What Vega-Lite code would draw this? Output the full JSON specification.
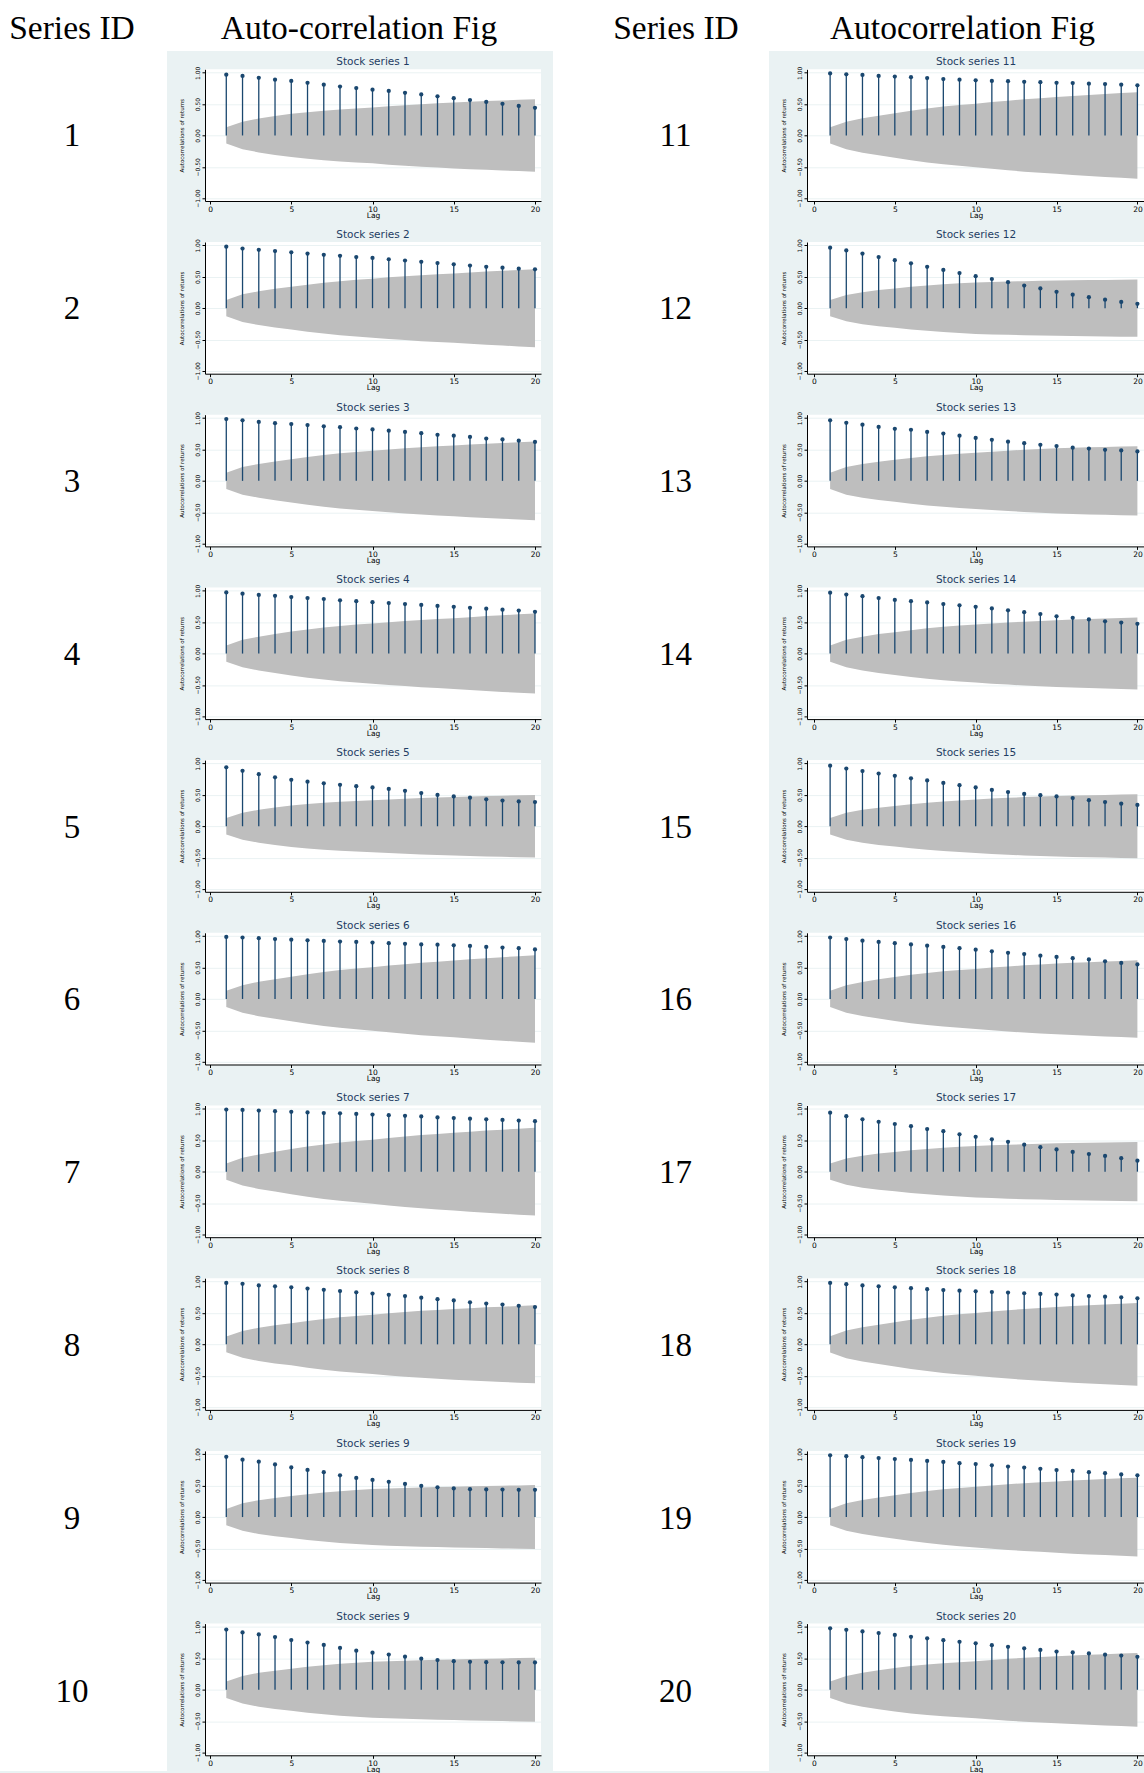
{
"$schema":"https://vega.github.io/schema/vega-lite/v6.json",
"background":"#eaf2f3",
"padding":0,
"spacing":0,
"datasets":{"acf":[
{"s":1,"lag":1,"r":0.97,"hi":0.13,"lo":-0.13},{"s":1,"lag":2,"r":0.95,"hi":0.22,"lo":-0.22},{"s":1,"lag":3,"r":0.92,"hi":0.27,"lo":-0.27},{"s":1,"lag":4,"r":0.89,"hi":0.31,"lo":-0.31},{"s":1,"lag":5,"r":0.87,"hi":0.345,"lo":-0.345},{"s":1,"lag":6,"r":0.84,"hi":0.372,"lo":-0.372},{"s":1,"lag":7,"r":0.81,"hi":0.395,"lo":-0.395},{"s":1,"lag":8,"r":0.78,"hi":0.415,"lo":-0.415},{"s":1,"lag":9,"r":0.755,"hi":0.431,"lo":-0.431},{"s":1,"lag":10,"r":0.73,"hi":0.445,"lo":-0.445},{"s":1,"lag":11,"r":0.71,"hi":0.465,"lo":-0.465},{"s":1,"lag":12,"r":0.68,"hi":0.483,"lo":-0.483},{"s":1,"lag":13,"r":0.655,"hi":0.499,"lo":-0.499},{"s":1,"lag":14,"r":0.625,"hi":0.512,"lo":-0.512},{"s":1,"lag":15,"r":0.595,"hi":0.525,"lo":-0.525},{"s":1,"lag":16,"r":0.565,"hi":0.537,"lo":-0.537},{"s":1,"lag":17,"r":0.535,"hi":0.548,"lo":-0.548},{"s":1,"lag":18,"r":0.505,"hi":0.558,"lo":-0.558},{"s":1,"lag":19,"r":0.47,"hi":0.568,"lo":-0.568},{"s":1,"lag":20,"r":0.44,"hi":0.578,"lo":-0.578},
{"s":2,"lag":1,"r":0.98,"hi":0.13,"lo":-0.13},{"s":2,"lag":2,"r":0.95,"hi":0.22,"lo":-0.22},{"s":2,"lag":3,"r":0.93,"hi":0.27,"lo":-0.27},{"s":2,"lag":4,"r":0.91,"hi":0.31,"lo":-0.31},{"s":2,"lag":5,"r":0.89,"hi":0.34,"lo":-0.34},{"s":2,"lag":6,"r":0.87,"hi":0.375,"lo":-0.375},{"s":2,"lag":7,"r":0.85,"hi":0.405,"lo":-0.405},{"s":2,"lag":8,"r":0.835,"hi":0.431,"lo":-0.431},{"s":2,"lag":9,"r":0.815,"hi":0.452,"lo":-0.452},{"s":2,"lag":10,"r":0.8,"hi":0.47,"lo":-0.47},{"s":2,"lag":11,"r":0.78,"hi":0.491,"lo":-0.491},{"s":2,"lag":12,"r":0.76,"hi":0.509,"lo":-0.509},{"s":2,"lag":13,"r":0.74,"hi":0.526,"lo":-0.526},{"s":2,"lag":14,"r":0.72,"hi":0.54,"lo":-0.54},{"s":2,"lag":15,"r":0.7,"hi":0.553,"lo":-0.553},{"s":2,"lag":16,"r":0.68,"hi":0.569,"lo":-0.569},{"s":2,"lag":17,"r":0.66,"hi":0.583,"lo":-0.583},{"s":2,"lag":18,"r":0.645,"hi":0.596,"lo":-0.596},{"s":2,"lag":19,"r":0.63,"hi":0.61,"lo":-0.61},{"s":2,"lag":20,"r":0.62,"hi":0.622,"lo":-0.622},
{"s":3,"lag":1,"r":0.985,"hi":0.13,"lo":-0.13},{"s":3,"lag":2,"r":0.965,"hi":0.22,"lo":-0.22},{"s":3,"lag":3,"r":0.94,"hi":0.27,"lo":-0.27},{"s":3,"lag":4,"r":0.92,"hi":0.31,"lo":-0.31},{"s":3,"lag":5,"r":0.905,"hi":0.346,"lo":-0.346},{"s":3,"lag":6,"r":0.89,"hi":0.382,"lo":-0.382},{"s":3,"lag":7,"r":0.87,"hi":0.413,"lo":-0.413},{"s":3,"lag":8,"r":0.855,"hi":0.44,"lo":-0.44},{"s":3,"lag":9,"r":0.835,"hi":0.461,"lo":-0.461},{"s":3,"lag":10,"r":0.82,"hi":0.48,"lo":-0.48},{"s":3,"lag":11,"r":0.8,"hi":0.501,"lo":-0.501},{"s":3,"lag":12,"r":0.78,"hi":0.519,"lo":-0.519},{"s":3,"lag":13,"r":0.76,"hi":0.536,"lo":-0.536},{"s":3,"lag":14,"r":0.735,"hi":0.551,"lo":-0.551},{"s":3,"lag":15,"r":0.72,"hi":0.564,"lo":-0.564},{"s":3,"lag":16,"r":0.7,"hi":0.579,"lo":-0.579},{"s":3,"lag":17,"r":0.675,"hi":0.592,"lo":-0.592},{"s":3,"lag":18,"r":0.66,"hi":0.604,"lo":-0.604},{"s":3,"lag":19,"r":0.64,"hi":0.616,"lo":-0.616},{"s":3,"lag":20,"r":0.62,"hi":0.628,"lo":-0.628},
{"s":4,"lag":1,"r":0.975,"hi":0.13,"lo":-0.13},{"s":4,"lag":2,"r":0.955,"hi":0.22,"lo":-0.22},{"s":4,"lag":3,"r":0.935,"hi":0.27,"lo":-0.27},{"s":4,"lag":4,"r":0.92,"hi":0.31,"lo":-0.31},{"s":4,"lag":5,"r":0.9,"hi":0.35,"lo":-0.35},{"s":4,"lag":6,"r":0.885,"hi":0.385,"lo":-0.385},{"s":4,"lag":7,"r":0.87,"hi":0.415,"lo":-0.415},{"s":4,"lag":8,"r":0.85,"hi":0.441,"lo":-0.441},{"s":4,"lag":9,"r":0.835,"hi":0.462,"lo":-0.462},{"s":4,"lag":10,"r":0.82,"hi":0.48,"lo":-0.48},{"s":4,"lag":11,"r":0.805,"hi":0.501,"lo":-0.501},{"s":4,"lag":12,"r":0.79,"hi":0.519,"lo":-0.519},{"s":4,"lag":13,"r":0.775,"hi":0.536,"lo":-0.536},{"s":4,"lag":14,"r":0.76,"hi":0.551,"lo":-0.551},{"s":4,"lag":15,"r":0.745,"hi":0.564,"lo":-0.564},{"s":4,"lag":16,"r":0.73,"hi":0.581,"lo":-0.581},{"s":4,"lag":17,"r":0.715,"hi":0.597,"lo":-0.597},{"s":4,"lag":18,"r":0.7,"hi":0.611,"lo":-0.611},{"s":4,"lag":19,"r":0.685,"hi":0.625,"lo":-0.625},{"s":4,"lag":20,"r":0.665,"hi":0.638,"lo":-0.638},
{"s":5,"lag":1,"r":0.94,"hi":0.13,"lo":-0.13},{"s":5,"lag":2,"r":0.885,"hi":0.215,"lo":-0.215},{"s":5,"lag":3,"r":0.83,"hi":0.262,"lo":-0.262},{"s":5,"lag":4,"r":0.78,"hi":0.3,"lo":-0.3},{"s":5,"lag":5,"r":0.74,"hi":0.33,"lo":-0.33},{"s":5,"lag":6,"r":0.71,"hi":0.353,"lo":-0.353},{"s":5,"lag":7,"r":0.685,"hi":0.373,"lo":-0.373},{"s":5,"lag":8,"r":0.66,"hi":0.39,"lo":-0.39},{"s":5,"lag":9,"r":0.64,"hi":0.403,"lo":-0.403},{"s":5,"lag":10,"r":0.62,"hi":0.415,"lo":-0.415},{"s":5,"lag":11,"r":0.595,"hi":0.428,"lo":-0.428},{"s":5,"lag":12,"r":0.565,"hi":0.44,"lo":-0.44},{"s":5,"lag":13,"r":0.53,"hi":0.451,"lo":-0.451},{"s":5,"lag":14,"r":0.5,"hi":0.46,"lo":-0.46},{"s":5,"lag":15,"r":0.475,"hi":0.468,"lo":-0.468},{"s":5,"lag":16,"r":0.455,"hi":0.475,"lo":-0.475},{"s":5,"lag":17,"r":0.43,"hi":0.482,"lo":-0.482},{"s":5,"lag":18,"r":0.41,"hi":0.488,"lo":-0.488},{"s":5,"lag":19,"r":0.395,"hi":0.494,"lo":-0.494},{"s":5,"lag":20,"r":0.385,"hi":0.5,"lo":-0.5},
{"s":6,"lag":1,"r":0.99,"hi":0.13,"lo":-0.13},{"s":6,"lag":2,"r":0.98,"hi":0.22,"lo":-0.22},{"s":6,"lag":3,"r":0.97,"hi":0.275,"lo":-0.275},{"s":6,"lag":4,"r":0.955,"hi":0.315,"lo":-0.315},{"s":6,"lag":5,"r":0.945,"hi":0.356,"lo":-0.356},{"s":6,"lag":6,"r":0.935,"hi":0.396,"lo":-0.396},{"s":6,"lag":7,"r":0.925,"hi":0.431,"lo":-0.431},{"s":6,"lag":8,"r":0.915,"hi":0.46,"lo":-0.46},{"s":6,"lag":9,"r":0.91,"hi":0.484,"lo":-0.484},{"s":6,"lag":10,"r":0.9,"hi":0.505,"lo":-0.505},{"s":6,"lag":11,"r":0.89,"hi":0.532,"lo":-0.532},{"s":6,"lag":12,"r":0.88,"hi":0.555,"lo":-0.555},{"s":6,"lag":13,"r":0.87,"hi":0.577,"lo":-0.577},{"s":6,"lag":14,"r":0.865,"hi":0.595,"lo":-0.595},{"s":6,"lag":15,"r":0.855,"hi":0.612,"lo":-0.612},{"s":6,"lag":16,"r":0.845,"hi":0.632,"lo":-0.632},{"s":6,"lag":17,"r":0.83,"hi":0.649,"lo":-0.649},{"s":6,"lag":18,"r":0.82,"hi":0.666,"lo":-0.666},{"s":6,"lag":19,"r":0.81,"hi":0.682,"lo":-0.682},{"s":6,"lag":20,"r":0.79,"hi":0.697,"lo":-0.697},
{"s":7,"lag":1,"r":0.99,"hi":0.13,"lo":-0.13},{"s":7,"lag":2,"r":0.985,"hi":0.22,"lo":-0.22},{"s":7,"lag":3,"r":0.975,"hi":0.275,"lo":-0.275},{"s":7,"lag":4,"r":0.965,"hi":0.318,"lo":-0.318},{"s":7,"lag":5,"r":0.955,"hi":0.36,"lo":-0.36},{"s":7,"lag":6,"r":0.945,"hi":0.401,"lo":-0.401},{"s":7,"lag":7,"r":0.935,"hi":0.435,"lo":-0.435},{"s":7,"lag":8,"r":0.93,"hi":0.465,"lo":-0.465},{"s":7,"lag":9,"r":0.92,"hi":0.489,"lo":-0.489},{"s":7,"lag":10,"r":0.91,"hi":0.51,"lo":-0.51},{"s":7,"lag":11,"r":0.9,"hi":0.538,"lo":-0.538},{"s":7,"lag":12,"r":0.89,"hi":0.562,"lo":-0.562},{"s":7,"lag":13,"r":0.88,"hi":0.584,"lo":-0.584},{"s":7,"lag":14,"r":0.865,"hi":0.602,"lo":-0.602},{"s":7,"lag":15,"r":0.855,"hi":0.62,"lo":-0.62},{"s":7,"lag":16,"r":0.845,"hi":0.638,"lo":-0.638},{"s":7,"lag":17,"r":0.835,"hi":0.655,"lo":-0.655},{"s":7,"lag":18,"r":0.825,"hi":0.67,"lo":-0.67},{"s":7,"lag":19,"r":0.815,"hi":0.686,"lo":-0.686},{"s":7,"lag":20,"r":0.805,"hi":0.7,"lo":-0.7},
{"s":8,"lag":1,"r":0.98,"hi":0.125,"lo":-0.125},{"s":8,"lag":2,"r":0.965,"hi":0.215,"lo":-0.215},{"s":8,"lag":3,"r":0.94,"hi":0.265,"lo":-0.265},{"s":8,"lag":4,"r":0.925,"hi":0.305,"lo":-0.305},{"s":8,"lag":5,"r":0.91,"hi":0.335,"lo":-0.335},{"s":8,"lag":6,"r":0.89,"hi":0.372,"lo":-0.372},{"s":8,"lag":7,"r":0.87,"hi":0.404,"lo":-0.404},{"s":8,"lag":8,"r":0.85,"hi":0.432,"lo":-0.432},{"s":8,"lag":9,"r":0.83,"hi":0.454,"lo":-0.454},{"s":8,"lag":10,"r":0.81,"hi":0.473,"lo":-0.473},{"s":8,"lag":11,"r":0.79,"hi":0.496,"lo":-0.496},{"s":8,"lag":12,"r":0.77,"hi":0.516,"lo":-0.516},{"s":8,"lag":13,"r":0.745,"hi":0.534,"lo":-0.534},{"s":8,"lag":14,"r":0.72,"hi":0.549,"lo":-0.549},{"s":8,"lag":15,"r":0.7,"hi":0.564,"lo":-0.564},{"s":8,"lag":16,"r":0.67,"hi":0.577,"lo":-0.577},{"s":8,"lag":17,"r":0.65,"hi":0.59,"lo":-0.59},{"s":8,"lag":18,"r":0.635,"hi":0.601,"lo":-0.601},{"s":8,"lag":19,"r":0.615,"hi":0.612,"lo":-0.612},{"s":8,"lag":20,"r":0.595,"hi":0.622,"lo":-0.622},
{"s":9,"lag":1,"r":0.96,"hi":0.13,"lo":-0.13},{"s":9,"lag":2,"r":0.915,"hi":0.22,"lo":-0.22},{"s":9,"lag":3,"r":0.883,"hi":0.27,"lo":-0.27},{"s":9,"lag":4,"r":0.84,"hi":0.305,"lo":-0.305},{"s":9,"lag":5,"r":0.792,"hi":0.335,"lo":-0.335},{"s":9,"lag":6,"r":0.752,"hi":0.365,"lo":-0.365},{"s":9,"lag":7,"r":0.715,"hi":0.391,"lo":-0.391},{"s":9,"lag":8,"r":0.666,"hi":0.413,"lo":-0.413},{"s":9,"lag":9,"r":0.624,"hi":0.431,"lo":-0.431},{"s":9,"lag":10,"r":0.592,"hi":0.447,"lo":-0.447},{"s":9,"lag":11,"r":0.562,"hi":0.456,"lo":-0.456},{"s":9,"lag":12,"r":0.528,"hi":0.464,"lo":-0.464},{"s":9,"lag":13,"r":0.496,"hi":0.472,"lo":-0.472},{"s":9,"lag":14,"r":0.474,"hi":0.478,"lo":-0.478},{"s":9,"lag":15,"r":0.456,"hi":0.484,"lo":-0.484},{"s":9,"lag":16,"r":0.445,"hi":0.49,"lo":-0.49},{"s":9,"lag":17,"r":0.44,"hi":0.495,"lo":-0.495},{"s":9,"lag":18,"r":0.438,"hi":0.5,"lo":-0.5},{"s":9,"lag":19,"r":0.435,"hi":0.505,"lo":-0.505},{"s":9,"lag":20,"r":0.435,"hi":0.51,"lo":-0.51},
{"s":10,"lag":1,"r":0.96,"hi":0.13,"lo":-0.13},{"s":10,"lag":2,"r":0.915,"hi":0.22,"lo":-0.22},{"s":10,"lag":3,"r":0.883,"hi":0.27,"lo":-0.27},{"s":10,"lag":4,"r":0.84,"hi":0.305,"lo":-0.305},{"s":10,"lag":5,"r":0.792,"hi":0.335,"lo":-0.335},{"s":10,"lag":6,"r":0.752,"hi":0.365,"lo":-0.365},{"s":10,"lag":7,"r":0.715,"hi":0.391,"lo":-0.391},{"s":10,"lag":8,"r":0.666,"hi":0.413,"lo":-0.413},{"s":10,"lag":9,"r":0.624,"hi":0.431,"lo":-0.431},{"s":10,"lag":10,"r":0.592,"hi":0.447,"lo":-0.447},{"s":10,"lag":11,"r":0.562,"hi":0.456,"lo":-0.456},{"s":10,"lag":12,"r":0.528,"hi":0.464,"lo":-0.464},{"s":10,"lag":13,"r":0.496,"hi":0.472,"lo":-0.472},{"s":10,"lag":14,"r":0.474,"hi":0.478,"lo":-0.478},{"s":10,"lag":15,"r":0.456,"hi":0.484,"lo":-0.484},{"s":10,"lag":16,"r":0.445,"hi":0.49,"lo":-0.49},{"s":10,"lag":17,"r":0.44,"hi":0.495,"lo":-0.495},{"s":10,"lag":18,"r":0.438,"hi":0.5,"lo":-0.5},{"s":10,"lag":19,"r":0.435,"hi":0.505,"lo":-0.505},{"s":10,"lag":20,"r":0.435,"hi":0.51,"lo":-0.51},
{"s":11,"lag":1,"r":0.99,"hi":0.13,"lo":-0.13},{"s":11,"lag":2,"r":0.975,"hi":0.22,"lo":-0.22},{"s":11,"lag":3,"r":0.965,"hi":0.275,"lo":-0.275},{"s":11,"lag":4,"r":0.95,"hi":0.315,"lo":-0.315},{"s":11,"lag":5,"r":0.94,"hi":0.356,"lo":-0.356},{"s":11,"lag":6,"r":0.93,"hi":0.396,"lo":-0.396},{"s":11,"lag":7,"r":0.915,"hi":0.431,"lo":-0.431},{"s":11,"lag":8,"r":0.9,"hi":0.46,"lo":-0.46},{"s":11,"lag":9,"r":0.89,"hi":0.484,"lo":-0.484},{"s":11,"lag":10,"r":0.88,"hi":0.505,"lo":-0.505},{"s":11,"lag":11,"r":0.87,"hi":0.532,"lo":-0.532},{"s":11,"lag":12,"r":0.865,"hi":0.555,"lo":-0.555},{"s":11,"lag":13,"r":0.855,"hi":0.577,"lo":-0.577},{"s":11,"lag":14,"r":0.85,"hi":0.595,"lo":-0.595},{"s":11,"lag":15,"r":0.84,"hi":0.612,"lo":-0.612},{"s":11,"lag":16,"r":0.835,"hi":0.63,"lo":-0.63},{"s":11,"lag":17,"r":0.825,"hi":0.646,"lo":-0.646},{"s":11,"lag":18,"r":0.82,"hi":0.661,"lo":-0.661},{"s":11,"lag":19,"r":0.81,"hi":0.676,"lo":-0.676},{"s":11,"lag":20,"r":0.8,"hi":0.69,"lo":-0.69},
{"s":12,"lag":1,"r":0.965,"hi":0.13,"lo":-0.13},{"s":12,"lag":2,"r":0.92,"hi":0.21,"lo":-0.21},{"s":12,"lag":3,"r":0.87,"hi":0.255,"lo":-0.255},{"s":12,"lag":4,"r":0.815,"hi":0.29,"lo":-0.29},{"s":12,"lag":5,"r":0.765,"hi":0.314,"lo":-0.314},{"s":12,"lag":6,"r":0.715,"hi":0.34,"lo":-0.34},{"s":12,"lag":7,"r":0.66,"hi":0.362,"lo":-0.362},{"s":12,"lag":8,"r":0.61,"hi":0.381,"lo":-0.381},{"s":12,"lag":9,"r":0.56,"hi":0.397,"lo":-0.397},{"s":12,"lag":10,"r":0.51,"hi":0.41,"lo":-0.41},{"s":12,"lag":11,"r":0.465,"hi":0.418,"lo":-0.418},{"s":12,"lag":12,"r":0.415,"hi":0.425,"lo":-0.425},{"s":12,"lag":13,"r":0.36,"hi":0.431,"lo":-0.431},{"s":12,"lag":14,"r":0.315,"hi":0.436,"lo":-0.436},{"s":12,"lag":15,"r":0.26,"hi":0.441,"lo":-0.441},{"s":12,"lag":16,"r":0.215,"hi":0.445,"lo":-0.445},{"s":12,"lag":17,"r":0.175,"hi":0.448,"lo":-0.448},{"s":12,"lag":18,"r":0.135,"hi":0.451,"lo":-0.451},{"s":12,"lag":19,"r":0.1,"hi":0.454,"lo":-0.454},{"s":12,"lag":20,"r":0.07,"hi":0.457,"lo":-0.457},
{"s":13,"lag":1,"r":0.965,"hi":0.13,"lo":-0.13},{"s":13,"lag":2,"r":0.925,"hi":0.22,"lo":-0.22},{"s":13,"lag":3,"r":0.895,"hi":0.27,"lo":-0.27},{"s":13,"lag":4,"r":0.86,"hi":0.305,"lo":-0.305},{"s":13,"lag":5,"r":0.83,"hi":0.335,"lo":-0.335},{"s":13,"lag":6,"r":0.815,"hi":0.365,"lo":-0.365},{"s":13,"lag":7,"r":0.78,"hi":0.391,"lo":-0.391},{"s":13,"lag":8,"r":0.755,"hi":0.413,"lo":-0.413},{"s":13,"lag":9,"r":0.72,"hi":0.431,"lo":-0.431},{"s":13,"lag":10,"r":0.685,"hi":0.447,"lo":-0.447},{"s":13,"lag":11,"r":0.655,"hi":0.465,"lo":-0.465},{"s":13,"lag":12,"r":0.625,"hi":0.481,"lo":-0.481},{"s":13,"lag":13,"r":0.6,"hi":0.496,"lo":-0.496},{"s":13,"lag":14,"r":0.575,"hi":0.508,"lo":-0.508},{"s":13,"lag":15,"r":0.555,"hi":0.52,"lo":-0.52},{"s":13,"lag":16,"r":0.53,"hi":0.528,"lo":-0.528},{"s":13,"lag":17,"r":0.515,"hi":0.535,"lo":-0.535},{"s":13,"lag":18,"r":0.495,"hi":0.541,"lo":-0.541},{"s":13,"lag":19,"r":0.485,"hi":0.547,"lo":-0.547},{"s":13,"lag":20,"r":0.47,"hi":0.553,"lo":-0.553},
{"s":14,"lag":1,"r":0.97,"hi":0.13,"lo":-0.13},{"s":14,"lag":2,"r":0.94,"hi":0.22,"lo":-0.22},{"s":14,"lag":3,"r":0.915,"hi":0.27,"lo":-0.27},{"s":14,"lag":4,"r":0.885,"hi":0.31,"lo":-0.31},{"s":14,"lag":5,"r":0.855,"hi":0.34,"lo":-0.34},{"s":14,"lag":6,"r":0.835,"hi":0.373,"lo":-0.373},{"s":14,"lag":7,"r":0.815,"hi":0.402,"lo":-0.402},{"s":14,"lag":8,"r":0.79,"hi":0.426,"lo":-0.426},{"s":14,"lag":9,"r":0.77,"hi":0.446,"lo":-0.446},{"s":14,"lag":10,"r":0.745,"hi":0.463,"lo":-0.463},{"s":14,"lag":11,"r":0.72,"hi":0.48,"lo":-0.48},{"s":14,"lag":12,"r":0.69,"hi":0.495,"lo":-0.495},{"s":14,"lag":13,"r":0.66,"hi":0.509,"lo":-0.509},{"s":14,"lag":14,"r":0.63,"hi":0.521,"lo":-0.521},{"s":14,"lag":15,"r":0.595,"hi":0.532,"lo":-0.532},{"s":14,"lag":16,"r":0.57,"hi":0.542,"lo":-0.542},{"s":14,"lag":17,"r":0.545,"hi":0.55,"lo":-0.55},{"s":14,"lag":18,"r":0.515,"hi":0.558,"lo":-0.558},{"s":14,"lag":19,"r":0.495,"hi":0.566,"lo":-0.566},{"s":14,"lag":20,"r":0.475,"hi":0.574,"lo":-0.574},
{"s":15,"lag":1,"r":0.965,"hi":0.13,"lo":-0.13},{"s":15,"lag":2,"r":0.92,"hi":0.215,"lo":-0.215},{"s":15,"lag":3,"r":0.88,"hi":0.262,"lo":-0.262},{"s":15,"lag":4,"r":0.84,"hi":0.297,"lo":-0.297},{"s":15,"lag":5,"r":0.805,"hi":0.324,"lo":-0.324},{"s":15,"lag":6,"r":0.765,"hi":0.352,"lo":-0.352},{"s":15,"lag":7,"r":0.73,"hi":0.375,"lo":-0.375},{"s":15,"lag":8,"r":0.69,"hi":0.395,"lo":-0.395},{"s":15,"lag":9,"r":0.655,"hi":0.412,"lo":-0.412},{"s":15,"lag":10,"r":0.62,"hi":0.426,"lo":-0.426},{"s":15,"lag":11,"r":0.58,"hi":0.441,"lo":-0.441},{"s":15,"lag":12,"r":0.545,"hi":0.453,"lo":-0.453},{"s":15,"lag":13,"r":0.515,"hi":0.465,"lo":-0.465},{"s":15,"lag":14,"r":0.495,"hi":0.475,"lo":-0.475},{"s":15,"lag":15,"r":0.475,"hi":0.484,"lo":-0.484},{"s":15,"lag":16,"r":0.45,"hi":0.49,"lo":-0.49},{"s":15,"lag":17,"r":0.415,"hi":0.495,"lo":-0.495},{"s":15,"lag":18,"r":0.385,"hi":0.5,"lo":-0.5},{"s":15,"lag":19,"r":0.36,"hi":0.505,"lo":-0.505},{"s":15,"lag":20,"r":0.34,"hi":0.51,"lo":-0.51},
{"s":16,"lag":1,"r":0.98,"hi":0.13,"lo":-0.13},{"s":16,"lag":2,"r":0.955,"hi":0.22,"lo":-0.22},{"s":16,"lag":3,"r":0.93,"hi":0.272,"lo":-0.272},{"s":16,"lag":4,"r":0.91,"hi":0.313,"lo":-0.313},{"s":16,"lag":5,"r":0.89,"hi":0.351,"lo":-0.351},{"s":16,"lag":6,"r":0.87,"hi":0.386,"lo":-0.386},{"s":16,"lag":7,"r":0.85,"hi":0.415,"lo":-0.415},{"s":16,"lag":8,"r":0.83,"hi":0.441,"lo":-0.441},{"s":16,"lag":9,"r":0.81,"hi":0.461,"lo":-0.461},{"s":16,"lag":10,"r":0.785,"hi":0.479,"lo":-0.479},{"s":16,"lag":11,"r":0.76,"hi":0.5,"lo":-0.5},{"s":16,"lag":12,"r":0.735,"hi":0.519,"lo":-0.519},{"s":16,"lag":13,"r":0.715,"hi":0.536,"lo":-0.536},{"s":16,"lag":14,"r":0.69,"hi":0.55,"lo":-0.55},{"s":16,"lag":15,"r":0.67,"hi":0.564,"lo":-0.564},{"s":16,"lag":16,"r":0.65,"hi":0.576,"lo":-0.576},{"s":16,"lag":17,"r":0.63,"hi":0.587,"lo":-0.587},{"s":16,"lag":18,"r":0.6,"hi":0.597,"lo":-0.597},{"s":16,"lag":19,"r":0.575,"hi":0.607,"lo":-0.607},{"s":16,"lag":20,"r":0.55,"hi":0.617,"lo":-0.617},
{"s":17,"lag":1,"r":0.94,"hi":0.13,"lo":-0.13},{"s":17,"lag":2,"r":0.885,"hi":0.21,"lo":-0.21},{"s":17,"lag":3,"r":0.835,"hi":0.255,"lo":-0.255},{"s":17,"lag":4,"r":0.795,"hi":0.29,"lo":-0.29},{"s":17,"lag":5,"r":0.76,"hi":0.314,"lo":-0.314},{"s":17,"lag":6,"r":0.725,"hi":0.34,"lo":-0.34},{"s":17,"lag":7,"r":0.68,"hi":0.362,"lo":-0.362},{"s":17,"lag":8,"r":0.645,"hi":0.381,"lo":-0.381},{"s":17,"lag":9,"r":0.595,"hi":0.397,"lo":-0.397},{"s":17,"lag":10,"r":0.555,"hi":0.41,"lo":-0.41},{"s":17,"lag":11,"r":0.515,"hi":0.421,"lo":-0.421},{"s":17,"lag":12,"r":0.475,"hi":0.43,"lo":-0.43},{"s":17,"lag":13,"r":0.43,"hi":0.438,"lo":-0.438},{"s":17,"lag":14,"r":0.39,"hi":0.445,"lo":-0.445},{"s":17,"lag":15,"r":0.355,"hi":0.452,"lo":-0.452},{"s":17,"lag":16,"r":0.315,"hi":0.457,"lo":-0.457},{"s":17,"lag":17,"r":0.28,"hi":0.461,"lo":-0.461},{"s":17,"lag":18,"r":0.25,"hi":0.465,"lo":-0.465},{"s":17,"lag":19,"r":0.215,"hi":0.469,"lo":-0.469},{"s":17,"lag":20,"r":0.175,"hi":0.473,"lo":-0.473},
{"s":18,"lag":1,"r":0.98,"hi":0.13,"lo":-0.13},{"s":18,"lag":2,"r":0.96,"hi":0.22,"lo":-0.22},{"s":18,"lag":3,"r":0.94,"hi":0.272,"lo":-0.272},{"s":18,"lag":4,"r":0.925,"hi":0.313,"lo":-0.313},{"s":18,"lag":5,"r":0.91,"hi":0.351,"lo":-0.351},{"s":18,"lag":6,"r":0.895,"hi":0.391,"lo":-0.391},{"s":18,"lag":7,"r":0.88,"hi":0.426,"lo":-0.426},{"s":18,"lag":8,"r":0.865,"hi":0.455,"lo":-0.455},{"s":18,"lag":9,"r":0.855,"hi":0.479,"lo":-0.479},{"s":18,"lag":10,"r":0.845,"hi":0.5,"lo":-0.5},{"s":18,"lag":11,"r":0.835,"hi":0.524,"lo":-0.524},{"s":18,"lag":12,"r":0.825,"hi":0.545,"lo":-0.545},{"s":18,"lag":13,"r":0.815,"hi":0.564,"lo":-0.564},{"s":18,"lag":14,"r":0.805,"hi":0.581,"lo":-0.581},{"s":18,"lag":15,"r":0.795,"hi":0.596,"lo":-0.596},{"s":18,"lag":16,"r":0.78,"hi":0.611,"lo":-0.611},{"s":18,"lag":17,"r":0.77,"hi":0.624,"lo":-0.624},{"s":18,"lag":18,"r":0.76,"hi":0.636,"lo":-0.636},{"s":18,"lag":19,"r":0.75,"hi":0.648,"lo":-0.648},{"s":18,"lag":20,"r":0.735,"hi":0.66,"lo":-0.66},
{"s":19,"lag":1,"r":0.985,"hi":0.13,"lo":-0.13},{"s":19,"lag":2,"r":0.97,"hi":0.22,"lo":-0.22},{"s":19,"lag":3,"r":0.955,"hi":0.272,"lo":-0.272},{"s":19,"lag":4,"r":0.94,"hi":0.31,"lo":-0.31},{"s":19,"lag":5,"r":0.925,"hi":0.346,"lo":-0.346},{"s":19,"lag":6,"r":0.91,"hi":0.383,"lo":-0.383},{"s":19,"lag":7,"r":0.895,"hi":0.415,"lo":-0.415},{"s":19,"lag":8,"r":0.88,"hi":0.443,"lo":-0.443},{"s":19,"lag":9,"r":0.86,"hi":0.465,"lo":-0.465},{"s":19,"lag":10,"r":0.845,"hi":0.484,"lo":-0.484},{"s":19,"lag":11,"r":0.825,"hi":0.505,"lo":-0.505},{"s":19,"lag":12,"r":0.805,"hi":0.524,"lo":-0.524},{"s":19,"lag":13,"r":0.79,"hi":0.541,"lo":-0.541},{"s":19,"lag":14,"r":0.77,"hi":0.555,"lo":-0.555},{"s":19,"lag":15,"r":0.75,"hi":0.569,"lo":-0.569},{"s":19,"lag":16,"r":0.735,"hi":0.583,"lo":-0.583},{"s":19,"lag":17,"r":0.715,"hi":0.595,"lo":-0.595},{"s":19,"lag":18,"r":0.7,"hi":0.606,"lo":-0.606},{"s":19,"lag":19,"r":0.68,"hi":0.617,"lo":-0.617},{"s":19,"lag":20,"r":0.665,"hi":0.628,"lo":-0.628},
{"s":20,"lag":1,"r":0.98,"hi":0.13,"lo":-0.13},{"s":20,"lag":2,"r":0.955,"hi":0.22,"lo":-0.22},{"s":20,"lag":3,"r":0.93,"hi":0.27,"lo":-0.27},{"s":20,"lag":4,"r":0.905,"hi":0.31,"lo":-0.31},{"s":20,"lag":5,"r":0.875,"hi":0.348,"lo":-0.348},{"s":20,"lag":6,"r":0.845,"hi":0.377,"lo":-0.377},{"s":20,"lag":7,"r":0.82,"hi":0.402,"lo":-0.402},{"s":20,"lag":8,"r":0.79,"hi":0.423,"lo":-0.423},{"s":20,"lag":9,"r":0.765,"hi":0.44,"lo":-0.44},{"s":20,"lag":10,"r":0.74,"hi":0.455,"lo":-0.455},{"s":20,"lag":11,"r":0.71,"hi":0.475,"lo":-0.475},{"s":20,"lag":12,"r":0.685,"hi":0.493,"lo":-0.493},{"s":20,"lag":13,"r":0.66,"hi":0.509,"lo":-0.509},{"s":20,"lag":14,"r":0.635,"hi":0.522,"lo":-0.522},{"s":20,"lag":15,"r":0.61,"hi":0.535,"lo":-0.535},{"s":20,"lag":16,"r":0.595,"hi":0.547,"lo":-0.547},{"s":20,"lag":17,"r":0.58,"hi":0.558,"lo":-0.558},{"s":20,"lag":18,"r":0.56,"hi":0.568,"lo":-0.568},{"s":20,"lag":19,"r":0.545,"hi":0.579,"lo":-0.579},{"s":20,"lag":20,"r":0.525,"hi":0.588,"lo":-0.588}
]},
"vconcat":[
{"width":1144,"height":51,"data":{"values":[{}]},"view":{"fill":"white","stroke":null},"layer":[
{"mark":{"type":"text","text":"Series ID","font":"Liberation Serif","fontSize":33.5,"baseline":"alphabetic","dy":13,"dx":-500,"color":"#000"}},
{"mark":{"type":"text","text":"Auto-correlation Fig","font":"Liberation Serif","fontSize":33.5,"baseline":"alphabetic","dy":13,"dx":-213,"color":"#000"}},
{"mark":{"type":"text","text":"Series ID","font":"Liberation Serif","fontSize":33.5,"baseline":"alphabetic","dy":13,"dx":104,"color":"#000"}},
{"mark":{"type":"text","text":"Autocorrelation Fig","font":"Liberation Serif","fontSize":33.5,"baseline":"alphabetic","dy":13,"dx":390.5,"color":"#000"}}
]},
{"hconcat":[
{"width":167,"height":1720,"data":{"values":[{"id":1},{"id":2},{"id":3},{"id":4},{"id":5},{"id":6},{"id":7},{"id":8},{"id":9},{"id":10}]},"mark":{"type":"text","font":"Liberation Serif","fontSize":33,"baseline":"alphabetic","dy":13,"dx":-11.5,"color":"#000"},"encoding":{"y":{"field":"id","type":"ordinal","scale":{"padding":0.477},"axis":null},"text":{"field":"id"}}},
{"vconcat":[
{"width":10,"height":1,"data":{"values":[{}]},"mark":{"type":"point","opacity":0,"size":0,"strokeWidth":0},"view":{"fill":null,"stroke":null}},
{"vconcat":[
{"width":336,"height":131.7,"title":{"text":"Stock series 1"},"data":{"name":"acf"},"transform":[{"filter":"datum.s==1"}],"encoding":{"x":{"field":"lag","type":"quantitative","title":"Lag","scale":{"domain":[-0.31,20.37],"nice":false,"zero":false},"axis":{"values":[0,5,10,15,20]}},"y":{"field":"r","type":"quantitative","title":"Autocorrelations of returns","scale":{"domain":[-1.045,1.055],"nice":false,"zero":false},"axis":{"values":[-1,-0.5,0,0.5,1],"format":".2f"}}},"layer":[{"mark":{"type":"area","color":"#bebebe"},"encoding":{"y":{"field":"hi","type":"quantitative","title":"Autocorrelations of returns","scale":{"domain":[-1.045,1.055],"nice":false,"zero":false},"axis":{"values":[-1,-0.5,0,0.5,1],"format":".2f"}},"y2":{"field":"lo"}}},{"mark":{"type":"rule","color":"#1a476f","strokeWidth":1.3},"encoding":{"y2":{"datum":0}}},{"mark":{"type":"point","filled":true,"color":"#1a476f","size":18,"opacity":1}}]},
{"width":336,"height":131.7,"title":{"text":"Stock series 2"},"data":{"name":"acf"},"transform":[{"filter":"datum.s==2"}],"encoding":{"x":{"field":"lag","type":"quantitative","title":"Lag","scale":{"domain":[-0.31,20.37],"nice":false,"zero":false},"axis":{"values":[0,5,10,15,20]}},"y":{"field":"r","type":"quantitative","title":"Autocorrelations of returns","scale":{"domain":[-1.045,1.055],"nice":false,"zero":false},"axis":{"values":[-1,-0.5,0,0.5,1],"format":".2f"}}},"layer":[{"mark":{"type":"area","color":"#bebebe"},"encoding":{"y":{"field":"hi","type":"quantitative","title":"Autocorrelations of returns","scale":{"domain":[-1.045,1.055],"nice":false,"zero":false},"axis":{"values":[-1,-0.5,0,0.5,1],"format":".2f"}},"y2":{"field":"lo"}}},{"mark":{"type":"rule","color":"#1a476f","strokeWidth":1.3},"encoding":{"y2":{"datum":0}}},{"mark":{"type":"point","filled":true,"color":"#1a476f","size":18,"opacity":1}}]},
{"width":336,"height":131.7,"title":{"text":"Stock series 3"},"data":{"name":"acf"},"transform":[{"filter":"datum.s==3"}],"encoding":{"x":{"field":"lag","type":"quantitative","title":"Lag","scale":{"domain":[-0.31,20.37],"nice":false,"zero":false},"axis":{"values":[0,5,10,15,20]}},"y":{"field":"r","type":"quantitative","title":"Autocorrelations of returns","scale":{"domain":[-1.045,1.055],"nice":false,"zero":false},"axis":{"values":[-1,-0.5,0,0.5,1],"format":".2f"}}},"layer":[{"mark":{"type":"area","color":"#bebebe"},"encoding":{"y":{"field":"hi","type":"quantitative","title":"Autocorrelations of returns","scale":{"domain":[-1.045,1.055],"nice":false,"zero":false},"axis":{"values":[-1,-0.5,0,0.5,1],"format":".2f"}},"y2":{"field":"lo"}}},{"mark":{"type":"rule","color":"#1a476f","strokeWidth":1.3},"encoding":{"y2":{"datum":0}}},{"mark":{"type":"point","filled":true,"color":"#1a476f","size":18,"opacity":1}}]},
{"width":336,"height":131.7,"title":{"text":"Stock series 4"},"data":{"name":"acf"},"transform":[{"filter":"datum.s==4"}],"encoding":{"x":{"field":"lag","type":"quantitative","title":"Lag","scale":{"domain":[-0.31,20.37],"nice":false,"zero":false},"axis":{"values":[0,5,10,15,20]}},"y":{"field":"r","type":"quantitative","title":"Autocorrelations of returns","scale":{"domain":[-1.045,1.055],"nice":false,"zero":false},"axis":{"values":[-1,-0.5,0,0.5,1],"format":".2f"}}},"layer":[{"mark":{"type":"area","color":"#bebebe"},"encoding":{"y":{"field":"hi","type":"quantitative","title":"Autocorrelations of returns","scale":{"domain":[-1.045,1.055],"nice":false,"zero":false},"axis":{"values":[-1,-0.5,0,0.5,1],"format":".2f"}},"y2":{"field":"lo"}}},{"mark":{"type":"rule","color":"#1a476f","strokeWidth":1.3},"encoding":{"y2":{"datum":0}}},{"mark":{"type":"point","filled":true,"color":"#1a476f","size":18,"opacity":1}}]},
{"width":336,"height":131.7,"title":{"text":"Stock series 5"},"data":{"name":"acf"},"transform":[{"filter":"datum.s==5"}],"encoding":{"x":{"field":"lag","type":"quantitative","title":"Lag","scale":{"domain":[-0.31,20.37],"nice":false,"zero":false},"axis":{"values":[0,5,10,15,20]}},"y":{"field":"r","type":"quantitative","title":"Autocorrelations of returns","scale":{"domain":[-1.045,1.055],"nice":false,"zero":false},"axis":{"values":[-1,-0.5,0,0.5,1],"format":".2f"}}},"layer":[{"mark":{"type":"area","color":"#bebebe"},"encoding":{"y":{"field":"hi","type":"quantitative","title":"Autocorrelations of returns","scale":{"domain":[-1.045,1.055],"nice":false,"zero":false},"axis":{"values":[-1,-0.5,0,0.5,1],"format":".2f"}},"y2":{"field":"lo"}}},{"mark":{"type":"rule","color":"#1a476f","strokeWidth":1.3},"encoding":{"y2":{"datum":0}}},{"mark":{"type":"point","filled":true,"color":"#1a476f","size":18,"opacity":1}}]},
{"width":336,"height":131.7,"title":{"text":"Stock series 6"},"data":{"name":"acf"},"transform":[{"filter":"datum.s==6"}],"encoding":{"x":{"field":"lag","type":"quantitative","title":"Lag","scale":{"domain":[-0.31,20.37],"nice":false,"zero":false},"axis":{"values":[0,5,10,15,20]}},"y":{"field":"r","type":"quantitative","title":"Autocorrelations of returns","scale":{"domain":[-1.045,1.055],"nice":false,"zero":false},"axis":{"values":[-1,-0.5,0,0.5,1],"format":".2f"}}},"layer":[{"mark":{"type":"area","color":"#bebebe"},"encoding":{"y":{"field":"hi","type":"quantitative","title":"Autocorrelations of returns","scale":{"domain":[-1.045,1.055],"nice":false,"zero":false},"axis":{"values":[-1,-0.5,0,0.5,1],"format":".2f"}},"y2":{"field":"lo"}}},{"mark":{"type":"rule","color":"#1a476f","strokeWidth":1.3},"encoding":{"y2":{"datum":0}}},{"mark":{"type":"point","filled":true,"color":"#1a476f","size":18,"opacity":1}}]},
{"width":336,"height":131.7,"title":{"text":"Stock series 7"},"data":{"name":"acf"},"transform":[{"filter":"datum.s==7"}],"encoding":{"x":{"field":"lag","type":"quantitative","title":"Lag","scale":{"domain":[-0.31,20.37],"nice":false,"zero":false},"axis":{"values":[0,5,10,15,20]}},"y":{"field":"r","type":"quantitative","title":"Autocorrelations of returns","scale":{"domain":[-1.045,1.055],"nice":false,"zero":false},"axis":{"values":[-1,-0.5,0,0.5,1],"format":".2f"}}},"layer":[{"mark":{"type":"area","color":"#bebebe"},"encoding":{"y":{"field":"hi","type":"quantitative","title":"Autocorrelations of returns","scale":{"domain":[-1.045,1.055],"nice":false,"zero":false},"axis":{"values":[-1,-0.5,0,0.5,1],"format":".2f"}},"y2":{"field":"lo"}}},{"mark":{"type":"rule","color":"#1a476f","strokeWidth":1.3},"encoding":{"y2":{"datum":0}}},{"mark":{"type":"point","filled":true,"color":"#1a476f","size":18,"opacity":1}}]},
{"width":336,"height":131.7,"title":{"text":"Stock series 8"},"data":{"name":"acf"},"transform":[{"filter":"datum.s==8"}],"encoding":{"x":{"field":"lag","type":"quantitative","title":"Lag","scale":{"domain":[-0.31,20.37],"nice":false,"zero":false},"axis":{"values":[0,5,10,15,20]}},"y":{"field":"r","type":"quantitative","title":"Autocorrelations of returns","scale":{"domain":[-1.045,1.055],"nice":false,"zero":false},"axis":{"values":[-1,-0.5,0,0.5,1],"format":".2f"}}},"layer":[{"mark":{"type":"area","color":"#bebebe"},"encoding":{"y":{"field":"hi","type":"quantitative","title":"Autocorrelations of returns","scale":{"domain":[-1.045,1.055],"nice":false,"zero":false},"axis":{"values":[-1,-0.5,0,0.5,1],"format":".2f"}},"y2":{"field":"lo"}}},{"mark":{"type":"rule","color":"#1a476f","strokeWidth":1.3},"encoding":{"y2":{"datum":0}}},{"mark":{"type":"point","filled":true,"color":"#1a476f","size":18,"opacity":1}}]},
{"width":336,"height":131.7,"title":{"text":"Stock series 9"},"data":{"name":"acf"},"transform":[{"filter":"datum.s==9"}],"encoding":{"x":{"field":"lag","type":"quantitative","title":"Lag","scale":{"domain":[-0.31,20.37],"nice":false,"zero":false},"axis":{"values":[0,5,10,15,20]}},"y":{"field":"r","type":"quantitative","title":"Autocorrelations of returns","scale":{"domain":[-1.045,1.055],"nice":false,"zero":false},"axis":{"values":[-1,-0.5,0,0.5,1],"format":".2f"}}},"layer":[{"mark":{"type":"area","color":"#bebebe"},"encoding":{"y":{"field":"hi","type":"quantitative","title":"Autocorrelations of returns","scale":{"domain":[-1.045,1.055],"nice":false,"zero":false},"axis":{"values":[-1,-0.5,0,0.5,1],"format":".2f"}},"y2":{"field":"lo"}}},{"mark":{"type":"rule","color":"#1a476f","strokeWidth":1.3},"encoding":{"y2":{"datum":0}}},{"mark":{"type":"point","filled":true,"color":"#1a476f","size":18,"opacity":1}}]},
{"width":336,"height":131.7,"title":{"text":"Stock series 9"},"data":{"name":"acf"},"transform":[{"filter":"datum.s==10"}],"encoding":{"x":{"field":"lag","type":"quantitative","title":"Lag","scale":{"domain":[-0.31,20.37],"nice":false,"zero":false},"axis":{"values":[0,5,10,15,20]}},"y":{"field":"r","type":"quantitative","title":"Autocorrelations of returns","scale":{"domain":[-1.045,1.055],"nice":false,"zero":false},"axis":{"values":[-1,-0.5,0,0.5,1],"format":".2f"}}},"layer":[{"mark":{"type":"area","color":"#bebebe"},"encoding":{"y":{"field":"hi","type":"quantitative","title":"Autocorrelations of returns","scale":{"domain":[-1.045,1.055],"nice":false,"zero":false},"axis":{"values":[-1,-0.5,0,0.5,1],"format":".2f"}},"y2":{"field":"lo"}}},{"mark":{"type":"rule","color":"#1a476f","strokeWidth":1.3},"encoding":{"y2":{"datum":0}}},{"mark":{"type":"point","filled":true,"color":"#1a476f","size":18,"opacity":1}}]}
],"spacing":9.7}
],"spacing":4.3},
{"width":216,"height":1720,"data":{"values":[{"id":11},{"id":12},{"id":13},{"id":14},{"id":15},{"id":16},{"id":17},{"id":18},{"id":19},{"id":20}]},"mark":{"type":"text","font":"Liberation Serif","fontSize":33,"baseline":"alphabetic","dy":13,"dx":14.5,"color":"#000"},"encoding":{"y":{"field":"id","type":"ordinal","scale":{"padding":0.477},"axis":null},"text":{"field":"id"}}},
{"vconcat":[
{"width":10,"height":1,"data":{"values":[{}]},"mark":{"type":"point","opacity":0,"size":0,"strokeWidth":0},"view":{"fill":null,"stroke":null}},
{"vconcat":[
{"width":338,"height":131.7,"title":{"text":"Stock series 11"},"data":{"name":"acf"},"transform":[{"filter":"datum.s==11"}],"encoding":{"x":{"field":"lag","type":"quantitative","title":"Lag","scale":{"domain":[-0.43,20.47],"nice":false,"zero":false},"axis":{"values":[0,5,10,15,20]}},"y":{"field":"r","type":"quantitative","title":"Autocorrelations of returns","scale":{"domain":[-1.045,1.055],"nice":false,"zero":false},"axis":{"values":[-1,-0.5,0,0.5,1],"format":".2f"}}},"layer":[{"mark":{"type":"area","color":"#bebebe"},"encoding":{"y":{"field":"hi","type":"quantitative","title":"Autocorrelations of returns","scale":{"domain":[-1.045,1.055],"nice":false,"zero":false},"axis":{"values":[-1,-0.5,0,0.5,1],"format":".2f"}},"y2":{"field":"lo"}}},{"mark":{"type":"rule","color":"#1a476f","strokeWidth":1.3},"encoding":{"y2":{"datum":0}}},{"mark":{"type":"point","filled":true,"color":"#1a476f","size":18,"opacity":1}}]},
{"width":338,"height":131.7,"title":{"text":"Stock series 12"},"data":{"name":"acf"},"transform":[{"filter":"datum.s==12"}],"encoding":{"x":{"field":"lag","type":"quantitative","title":"Lag","scale":{"domain":[-0.43,20.47],"nice":false,"zero":false},"axis":{"values":[0,5,10,15,20]}},"y":{"field":"r","type":"quantitative","title":"Autocorrelations of returns","scale":{"domain":[-1.045,1.055],"nice":false,"zero":false},"axis":{"values":[-1,-0.5,0,0.5,1],"format":".2f"}}},"layer":[{"mark":{"type":"area","color":"#bebebe"},"encoding":{"y":{"field":"hi","type":"quantitative","title":"Autocorrelations of returns","scale":{"domain":[-1.045,1.055],"nice":false,"zero":false},"axis":{"values":[-1,-0.5,0,0.5,1],"format":".2f"}},"y2":{"field":"lo"}}},{"mark":{"type":"rule","color":"#1a476f","strokeWidth":1.3},"encoding":{"y2":{"datum":0}}},{"mark":{"type":"point","filled":true,"color":"#1a476f","size":18,"opacity":1}}]},
{"width":338,"height":131.7,"title":{"text":"Stock series 13"},"data":{"name":"acf"},"transform":[{"filter":"datum.s==13"}],"encoding":{"x":{"field":"lag","type":"quantitative","title":"Lag","scale":{"domain":[-0.43,20.47],"nice":false,"zero":false},"axis":{"values":[0,5,10,15,20]}},"y":{"field":"r","type":"quantitative","title":"Autocorrelations of returns","scale":{"domain":[-1.045,1.055],"nice":false,"zero":false},"axis":{"values":[-1,-0.5,0,0.5,1],"format":".2f"}}},"layer":[{"mark":{"type":"area","color":"#bebebe"},"encoding":{"y":{"field":"hi","type":"quantitative","title":"Autocorrelations of returns","scale":{"domain":[-1.045,1.055],"nice":false,"zero":false},"axis":{"values":[-1,-0.5,0,0.5,1],"format":".2f"}},"y2":{"field":"lo"}}},{"mark":{"type":"rule","color":"#1a476f","strokeWidth":1.3},"encoding":{"y2":{"datum":0}}},{"mark":{"type":"point","filled":true,"color":"#1a476f","size":18,"opacity":1}}]},
{"width":338,"height":131.7,"title":{"text":"Stock series 14"},"data":{"name":"acf"},"transform":[{"filter":"datum.s==14"}],"encoding":{"x":{"field":"lag","type":"quantitative","title":"Lag","scale":{"domain":[-0.43,20.47],"nice":false,"zero":false},"axis":{"values":[0,5,10,15,20]}},"y":{"field":"r","type":"quantitative","title":"Autocorrelations of returns","scale":{"domain":[-1.045,1.055],"nice":false,"zero":false},"axis":{"values":[-1,-0.5,0,0.5,1],"format":".2f"}}},"layer":[{"mark":{"type":"area","color":"#bebebe"},"encoding":{"y":{"field":"hi","type":"quantitative","title":"Autocorrelations of returns","scale":{"domain":[-1.045,1.055],"nice":false,"zero":false},"axis":{"values":[-1,-0.5,0,0.5,1],"format":".2f"}},"y2":{"field":"lo"}}},{"mark":{"type":"rule","color":"#1a476f","strokeWidth":1.3},"encoding":{"y2":{"datum":0}}},{"mark":{"type":"point","filled":true,"color":"#1a476f","size":18,"opacity":1}}]},
{"width":338,"height":131.7,"title":{"text":"Stock series 15"},"data":{"name":"acf"},"transform":[{"filter":"datum.s==15"}],"encoding":{"x":{"field":"lag","type":"quantitative","title":"Lag","scale":{"domain":[-0.43,20.47],"nice":false,"zero":false},"axis":{"values":[0,5,10,15,20]}},"y":{"field":"r","type":"quantitative","title":"Autocorrelations of returns","scale":{"domain":[-1.045,1.055],"nice":false,"zero":false},"axis":{"values":[-1,-0.5,0,0.5,1],"format":".2f"}}},"layer":[{"mark":{"type":"area","color":"#bebebe"},"encoding":{"y":{"field":"hi","type":"quantitative","title":"Autocorrelations of returns","scale":{"domain":[-1.045,1.055],"nice":false,"zero":false},"axis":{"values":[-1,-0.5,0,0.5,1],"format":".2f"}},"y2":{"field":"lo"}}},{"mark":{"type":"rule","color":"#1a476f","strokeWidth":1.3},"encoding":{"y2":{"datum":0}}},{"mark":{"type":"point","filled":true,"color":"#1a476f","size":18,"opacity":1}}]},
{"width":338,"height":131.7,"title":{"text":"Stock series 16"},"data":{"name":"acf"},"transform":[{"filter":"datum.s==16"}],"encoding":{"x":{"field":"lag","type":"quantitative","title":"Lag","scale":{"domain":[-0.43,20.47],"nice":false,"zero":false},"axis":{"values":[0,5,10,15,20]}},"y":{"field":"r","type":"quantitative","title":"Autocorrelations of returns","scale":{"domain":[-1.045,1.055],"nice":false,"zero":false},"axis":{"values":[-1,-0.5,0,0.5,1],"format":".2f"}}},"layer":[{"mark":{"type":"area","color":"#bebebe"},"encoding":{"y":{"field":"hi","type":"quantitative","title":"Autocorrelations of returns","scale":{"domain":[-1.045,1.055],"nice":false,"zero":false},"axis":{"values":[-1,-0.5,0,0.5,1],"format":".2f"}},"y2":{"field":"lo"}}},{"mark":{"type":"rule","color":"#1a476f","strokeWidth":1.3},"encoding":{"y2":{"datum":0}}},{"mark":{"type":"point","filled":true,"color":"#1a476f","size":18,"opacity":1}}]},
{"width":338,"height":131.7,"title":{"text":"Stock series 17"},"data":{"name":"acf"},"transform":[{"filter":"datum.s==17"}],"encoding":{"x":{"field":"lag","type":"quantitative","title":"Lag","scale":{"domain":[-0.43,20.47],"nice":false,"zero":false},"axis":{"values":[0,5,10,15,20]}},"y":{"field":"r","type":"quantitative","title":"Autocorrelations of returns","scale":{"domain":[-1.045,1.055],"nice":false,"zero":false},"axis":{"values":[-1,-0.5,0,0.5,1],"format":".2f"}}},"layer":[{"mark":{"type":"area","color":"#bebebe"},"encoding":{"y":{"field":"hi","type":"quantitative","title":"Autocorrelations of returns","scale":{"domain":[-1.045,1.055],"nice":false,"zero":false},"axis":{"values":[-1,-0.5,0,0.5,1],"format":".2f"}},"y2":{"field":"lo"}}},{"mark":{"type":"rule","color":"#1a476f","strokeWidth":1.3},"encoding":{"y2":{"datum":0}}},{"mark":{"type":"point","filled":true,"color":"#1a476f","size":18,"opacity":1}}]},
{"width":338,"height":131.7,"title":{"text":"Stock series 18"},"data":{"name":"acf"},"transform":[{"filter":"datum.s==18"}],"encoding":{"x":{"field":"lag","type":"quantitative","title":"Lag","scale":{"domain":[-0.43,20.47],"nice":false,"zero":false},"axis":{"values":[0,5,10,15,20]}},"y":{"field":"r","type":"quantitative","title":"Autocorrelations of returns","scale":{"domain":[-1.045,1.055],"nice":false,"zero":false},"axis":{"values":[-1,-0.5,0,0.5,1],"format":".2f"}}},"layer":[{"mark":{"type":"area","color":"#bebebe"},"encoding":{"y":{"field":"hi","type":"quantitative","title":"Autocorrelations of returns","scale":{"domain":[-1.045,1.055],"nice":false,"zero":false},"axis":{"values":[-1,-0.5,0,0.5,1],"format":".2f"}},"y2":{"field":"lo"}}},{"mark":{"type":"rule","color":"#1a476f","strokeWidth":1.3},"encoding":{"y2":{"datum":0}}},{"mark":{"type":"point","filled":true,"color":"#1a476f","size":18,"opacity":1}}]},
{"width":338,"height":131.7,"title":{"text":"Stock series 19"},"data":{"name":"acf"},"transform":[{"filter":"datum.s==19"}],"encoding":{"x":{"field":"lag","type":"quantitative","title":"Lag","scale":{"domain":[-0.43,20.47],"nice":false,"zero":false},"axis":{"values":[0,5,10,15,20]}},"y":{"field":"r","type":"quantitative","title":"Autocorrelations of returns","scale":{"domain":[-1.045,1.055],"nice":false,"zero":false},"axis":{"values":[-1,-0.5,0,0.5,1],"format":".2f"}}},"layer":[{"mark":{"type":"area","color":"#bebebe"},"encoding":{"y":{"field":"hi","type":"quantitative","title":"Autocorrelations of returns","scale":{"domain":[-1.045,1.055],"nice":false,"zero":false},"axis":{"values":[-1,-0.5,0,0.5,1],"format":".2f"}},"y2":{"field":"lo"}}},{"mark":{"type":"rule","color":"#1a476f","strokeWidth":1.3},"encoding":{"y2":{"datum":0}}},{"mark":{"type":"point","filled":true,"color":"#1a476f","size":18,"opacity":1}}]},
{"width":338,"height":131.7,"title":{"text":"Stock series 20"},"data":{"name":"acf"},"transform":[{"filter":"datum.s==20"}],"encoding":{"x":{"field":"lag","type":"quantitative","title":"Lag","scale":{"domain":[-0.43,20.47],"nice":false,"zero":false},"axis":{"values":[0,5,10,15,20]}},"y":{"field":"r","type":"quantitative","title":"Autocorrelations of returns","scale":{"domain":[-1.045,1.055],"nice":false,"zero":false},"axis":{"values":[-1,-0.5,0,0.5,1],"format":".2f"}}},"layer":[{"mark":{"type":"area","color":"#bebebe"},"encoding":{"y":{"field":"hi","type":"quantitative","title":"Autocorrelations of returns","scale":{"domain":[-1.045,1.055],"nice":false,"zero":false},"axis":{"values":[-1,-0.5,0,0.5,1],"format":".2f"}},"y2":{"field":"lo"}}},{"mark":{"type":"rule","color":"#1a476f","strokeWidth":1.3},"encoding":{"y2":{"datum":0}}},{"mark":{"type":"point","filled":true,"color":"#1a476f","size":18,"opacity":1}}]}
],"spacing":9.7}
],"spacing":4.3}
],"spacing":12}
],
"config":{
"view":{"stroke":null,"fill":"white"},
"axis":{"domainColor":"#000","domainWidth":1,"tickColor":"#000","tickWidth":1,"tickSize":3,"labelColor":"#000","titleColor":"#000","labelFont":"DejaVu Sans","titleFont":"DejaVu Sans","titleFontWeight":"normal","labelFlush":false,"labelOverlap":false,"gridColor":"#eaf2f3","gridWidth":1},
"axisX":{"grid":false,"labelFontSize":7.5,"labelPadding":1,"titleFontSize":7.5,"titlePadding":-1.5,"labelAngle":0},
"axisY":{"grid":true,"labelFontSize":6,"labelAngle":-90,"labelAlign":"center","labelBaseline":"bottom","labelPadding":2,"titleFontSize":5.5,"titlePadding":9.5},
"title":{"font":"DejaVu Sans","fontSize":10.5,"fontWeight":"normal","color":"#1f3d63","offset":-1.7,"baseline":"bottom","anchor":"middle","frame":"group"}
}
}
